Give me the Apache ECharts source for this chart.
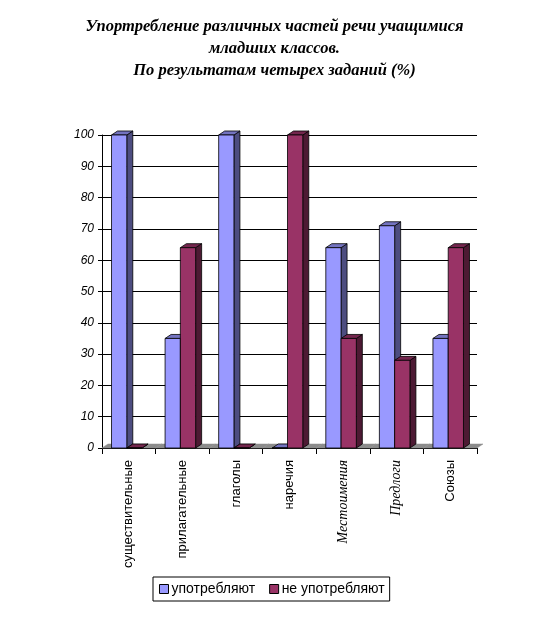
<!DOCTYPE html>
<html>
<head>
<meta charset="utf-8">
<script src="https://cdn.jsdelivr.net/npm/echarts@6/dist/echarts.min.js"></script>
<style>html,body{margin:0;padding:0;background:#fff}#c{width:549px;height:620px}</style>
</head>
<body>
<div id="c"></div>
<script>
var categories = ['существительные', 'прилагательные', 'глаголы', 'наречия', 'Местоимения', 'Предлоги', 'Союзы'];
var useValues = [100, 35, 100, 0, 64, 71, 35];
var notUseValues = [0, 64, 0, 100, 35, 28, 64];
var yTicks = [0, 10, 20, 30, 40, 50, 60, 70, 80, 90, 100];
var seriesNames = ['употребляют', 'не употребляют'];

var DX = 6, DY = 4;
var palettes = [
  {front: '#9999FF', top: '#7373C0', side: '#4D4D80'},
  {front: '#993366', top: '#73264D', side: '#4D1A33'}
];

function barRender(si) {
  return function (params, api) {
    var cat = api.value(0), val = api.value(1);
    var pTop = api.coord([cat, val]);
    var pBase = api.coord([cat, 0]);
    var band = api.size([1, 0])[0];
    var w = band * 0.285;
    var x0 = pTop[0] - w - 2 + si * w;
    var x1 = x0 + w;
    var yT = pTop[1], yB = pBase[1];
    var pal = palettes[si];
    var st = {stroke: '#000', lineWidth: 0.8};
    return {
      type: 'group',
      children: [
        {type: 'polygon', shape: {points: [[x1, yT], [x1 + DX, yT - DY], [x1 + DX, yB - DY], [x1, yB]]}, style: Object.assign({fill: pal.side}, st)},
        {type: 'polygon', shape: {points: [[x0, yT], [x0 + DX, yT - DY], [x1 + DX, yT - DY], [x1, yT]]}, style: Object.assign({fill: pal.top}, st)},
        {type: 'rect', shape: {x: x0, y: yT, width: w, height: yB - yT}, style: Object.assign({fill: pal.front}, st)}
      ]
    };
  };
}

function floorRender(params, api) {
  var cat = api.value(0);
  var p = api.coord([cat, 0]);
  var band = api.size([1, 0])[0];
  var xa = p[0] - band / 2, xb = p[0] + band / 2;
  var y = p[1];
  return {
    type: 'polygon',
    shape: {points: [[xa, y], [xa + DX, y - DY], [xb + DX, y - DY], [xb, y]]},
    style: {fill: '#8C8C8C', stroke: '#8C8C8C', lineWidth: 0.5}
  };
}

var chart = echarts.init(document.getElementById('c'));
chart.setOption({
  animation: false,
  backgroundColor: '#fff',
  title: {
    text: 'Упортребление различных частей речи учащимися\nмладших классов.\nПо результатам четырех заданий (%)',
    left: 'center',
    top: 11,
    textStyle: {
      fontFamily: 'Liberation Serif',
      fontStyle: 'italic',
      fontWeight: 'bold',
      fontSize: 16.5,
      lineHeight: 22,
      color: '#000'
    }
  },
  legend: {
    data: seriesNames,
    left: 153,
    top: 577,
    orient: 'horizontal',
    icon: 'rect',
    itemWidth: 9,
    itemHeight: 9,
    itemGap: 14,
    padding: [5, 5, 5, 6],
    borderColor: '#000',
    borderWidth: 1,
    borderRadius: 0,
    textStyle: {fontFamily: 'Liberation Sans', fontSize: 14, color: '#000', padding: [0, 0, 0, -2]},
    itemStyle: {borderColor: '#000', borderWidth: 1}
  },
  grid: {left: 102, right: 72, top: 135, bottom: 172, containLabel: false},
  xAxis: {
    type: 'category',
    data: categories,
    boundaryGap: true,
    axisLine: {lineStyle: {color: '#000', width: 1}},
    axisTick: {show: true, interval: 0, length: 6, lineStyle: {color: '#000'}},
    axisLabel: {
      interval: 0,
      rotate: 90,
      margin: 12,
      fontFamily: 'Liberation Sans',
      fontSize: 13,
      color: '#000',
      formatter: function (v) {
        if (v === 'Местоимения' || v === 'Предлоги') return '{it|' + v + '}';
        return v;
      },
      rich: {it: {fontFamily: 'Liberation Serif', fontStyle: 'italic', fontSize: 14, color: '#000'}}
    },
    splitLine: {show: false}
  },
  yAxis: {
    type: 'value',
    min: yTicks[0],
    max: yTicks[yTicks.length - 1],
    interval: 10,
    axisLine: {show: true, lineStyle: {color: '#000', width: 1}},
    axisTick: {show: true, length: 4, lineStyle: {color: '#000'}},
    axisLabel: {fontFamily: 'Liberation Sans', fontStyle: 'italic', fontSize: 12, color: '#000', margin: 8},
    splitLine: {show: true, lineStyle: {color: '#000', width: 1}}
  },
  series: [
    {
      name: 'floor',
      type: 'custom',
      renderItem: floorRender,
      data: categories.map(function (c, i) { return [i, 0]; }),
      z: 1,
      silent: true,
      legendHoverLink: false
    },
    {
      name: seriesNames[0],
      type: 'custom',
      renderItem: barRender(0),
      itemStyle: {color: palettes[0].front},
      data: useValues.map(function (v, i) { return [i, v]; }),
      z: 2
    },
    {
      name: seriesNames[1],
      type: 'custom',
      renderItem: barRender(1),
      itemStyle: {color: palettes[1].front},
      data: notUseValues.map(function (v, i) { return [i, v]; }),
      z: 3
    }
  ]
});
</script>
</body>
</html>
